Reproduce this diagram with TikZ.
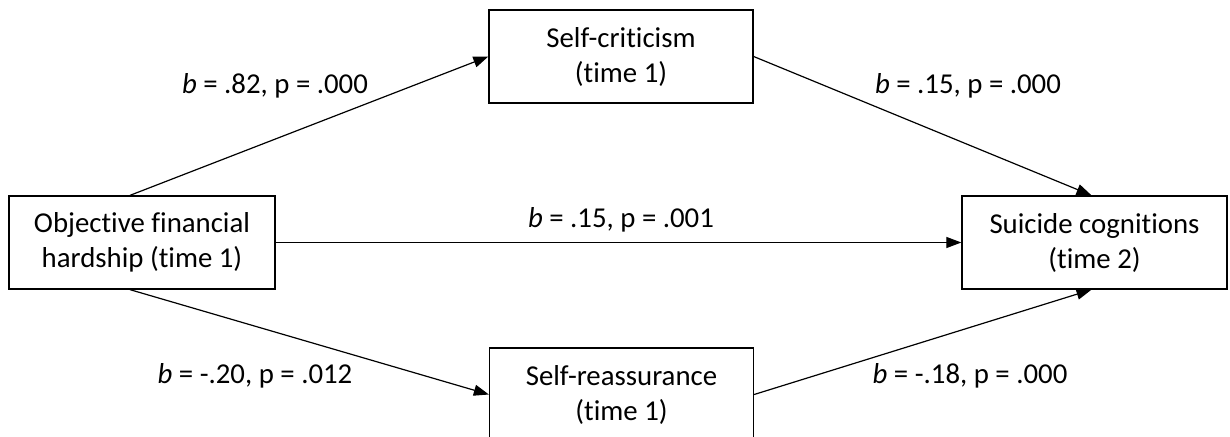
\documentclass[tikz,border=0pt]{standalone}
\usepackage{fontspec}
\setmainfont{Carlito}[Ligatures=NoCommon]
\usetikzlibrary{arrows.meta}

\tikzset{
  varbox/.style={draw=black, line width=1.3pt, fill=white, align=center,
    minimum width=264pt, minimum height=93pt, inner sep=0pt,
    font=\fontsize{28.8}{35}\selectfont},
  coef/.style={inner sep=0pt, anchor=base, font=\fontsize{28.8}{35}\selectfont},
  path/.style={line width=1.2pt, -{Triangle[length=15pt,width=11pt]}}
}

\begin{document}
\begin{tikzpicture}[x=1pt,y=-1pt]
  \useasboundingbox (0,0) rectangle (1230,436);
  \clip (0,0) rectangle (1230,436);

  % variables
  \node[varbox, minimum width=266pt] (hard) at (142,242.5) {Objective financial\\hardship (time 1)};
  \node[varbox] (crit) at (621,56.5) {Self-criticism\\(time 1)};
  \node[varbox] (reas) at (621.5,394.5) {Self-reassurance\\(time 1)};
  \node[varbox, minimum width=265pt] (suic) at (1094.5,242.5) {Suicide cognitions\\(time 2)};

  % paths
  \draw[path] ([xshift=-12pt]hard.north) -- (crit.west);
  \draw[path] ([xshift=-12pt]hard.south) -- (reas.west);
  \draw[path] (hard.east) -- (suic.west);
  \draw[path] (crit.east) -- ([xshift=-3pt]suic.north);
  \draw[path] (reas.east) -- ([xshift=-3pt]suic.south);

  % coefficients
  \node[coef] (c1) at (275,93) {\textit{b} = .82, p = .000};
  \node[coef] (c2) at (968,93) {\textit{b} = .15, p = .000};
  \node[coef] (c3) at (621,227) {\textit{b} = .15, p = .001};
  \node[coef] (c4) at (255,383) {\textit{b} = -.20, p = .012};
  \node[coef] (c5) at (970,383) {\textit{b} = -.18, p = .000};
\end{tikzpicture}
\end{document}
